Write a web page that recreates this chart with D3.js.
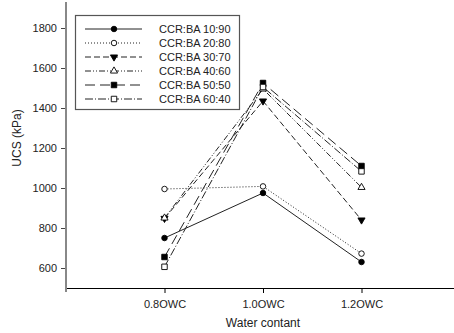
<!DOCTYPE html>
<html>
<head>
<meta charset="utf-8">
<script src="https://cdn.jsdelivr.net/npm/d3@7"></script>
<style>
  body { margin: 0; background: #fff; }
  svg { font-family: 'Liberation Sans', Arial, sans-serif; }
  .axis text { font-size: 11px; fill: #222; }
  .axis-title { font-size: 12px; fill: #222; }
  .legend text { font-size: 11px; fill: #222; }
</style>
</head>
<body>
<div id="chart"></div>
<script>
// water content positions and their labels
const xValues = [0.8, 1.0, 1.2];
const xLabels = ['0.8OWC', '1.0OWC', '1.2OWC'];
const yTicks = [600, 800, 1000, 1200, 1400, 1600, 1800];

const seriesNames = ['CCR:BA 10:90', 'CCR:BA 20:80', 'CCR:BA 30:70',
  'CCR:BA 40:60', 'CCR:BA 50:50', 'CCR:BA 60:40'];

const ucs1090 = [750, 975, 630];
const ucs2080 = [995, 1008, 672];
const ucs3070 = [848, 1435, 840];
const ucs4060 = [850, 1495, 1003];
const ucs5050 = [655, 1525, 1110];
const ucs6040 = [606, 1505, 1083];

const allValues = [ucs1090, ucs2080, ucs3070, ucs4060, ucs5050, ucs6040];

// line dash and marker per series
const dashes = ['none', '1,2', '6,3', '6,2,1,2,1,2', '10,5', '8,2,1,2'];
const markers = [
  { shape: d3.symbolCircle, fill: '#000' },
  { shape: d3.symbolCircle, fill: '#fff' },
  { shape: d3.symbolTriangle, fill: '#000', flip: true },
  { shape: d3.symbolTriangle, fill: '#fff' },
  { shape: d3.symbolSquare, fill: '#000' },
  { shape: d3.symbolSquare, fill: '#fff' },
];

const width = 454;
const height = 333;

const x = d3.scaleLinear().domain([0.6, 1.4]).range([66, 460]);
const y = d3.scaleLinear().domain([500, 1900]).range([288, 8]);

const svg = d3.select('#chart').append('svg')
  .attr('width', width)
  .attr('height', height);

// x axis
const xAxis = d3.axisBottom(x)
  .tickValues(xValues)
  .tickFormat((d, i) => xLabels[i])
  .tickSize(5)
  .tickSizeOuter(0);

const gx = svg.append('g')
  .attr('class', 'axis')
  .attr('transform', `translate(0,${y(500)})`)
  .call(xAxis);
gx.select('.domain').attr('stroke', '#000').attr('stroke-width', 1.2);
gx.selectAll('.tick line').attr('stroke', '#000');
gx.selectAll('.tick text').attr('dy', '1.1em');

// y axis
const yAxis = d3.axisLeft(y)
  .tickValues(yTicks)
  .tickFormat(d3.format('d'))
  .tickSize(5)
  .tickSizeOuter(0);

const gy = svg.append('g')
  .attr('class', 'axis')
  .attr('transform', `translate(${x(0.6)},0)`)
  .call(yAxis);
gy.select('.domain').remove();
gy.append('line')
  .attr('x1', 0).attr('x2', 0)
  .attr('y1', 2).attr('y2', 292)
  .attr('stroke', '#888')
  .attr('stroke-width', 2);
gy.selectAll('.tick line').attr('stroke', '#444');
gy.selectAll('.tick text').attr('x', -9);

svg.append('text')
  .attr('class', 'axis-title')
  .attr('transform', `translate(21,${(y(500) + y(1900)) / 2 - 10}) rotate(-90)`)
  .attr('text-anchor', 'middle')
  .text('UCS (kPa)');

svg.append('text')
  .attr('class', 'axis-title')
  .attr('x', x(1.0))
  .attr('y', 327)
  .attr('text-anchor', 'middle')
  .text('Water contant');

// series
const line = d3.line()
  .x((d, i) => x(xValues[i]))
  .y(d => y(d));

function drawMarker(g, m, cx, cy) {
  const sym = m.shape === d3.symbolCircle ? 24 : (m.shape === d3.symbolSquare ? 30 : 22);
  g.append('path')
    .attr('d', d3.symbol().type(m.shape).size(sym)())
    .attr('transform', `translate(${cx},${cy})${m.flip ? ' rotate(180)' : ''}`)
    .attr('fill', m.fill)
    .attr('stroke', '#000')
    .attr('stroke-width', 0.9);
}

allValues.forEach((vals, k) => {
  svg.append('path')
    .datum(vals)
    .attr('d', line)
    .attr('fill', 'none')
    .attr('stroke', '#222')
    .attr('stroke-width', 1)
    .attr('stroke-dasharray', dashes[k]);
});

allValues.forEach((vals, k) => {
  const g = svg.append('g');
  vals.forEach((v, i) => drawMarker(g, markers[k], x(xValues[i]), y(v)));
});

// legend
const legend = svg.append('g').attr('class', 'legend');
legend.append('rect')
  .attr('x', 75.5).attr('y', 15.5)
  .attr('width', 164).attr('height', 94)
  .attr('fill', '#fff')
  .attr('stroke', '#555')
  .attr('stroke-width', 1.2);

seriesNames.forEach((name, k) => {
  const ry = 29 + k * 14;
  legend.append('line')
    .attr('x1', 85).attr('x2', 142)
    .attr('y1', ry).attr('y2', ry)
    .attr('stroke', '#222')
    .attr('stroke-dasharray', dashes[k]);
  drawMarker(legend, markers[k], 114, ry);
  legend.append('text')
    .attr('x', 159)
    .attr('y', ry)
    .attr('dy', '0.35em')
    .text(name);
});
</script>
</body>
</html>
